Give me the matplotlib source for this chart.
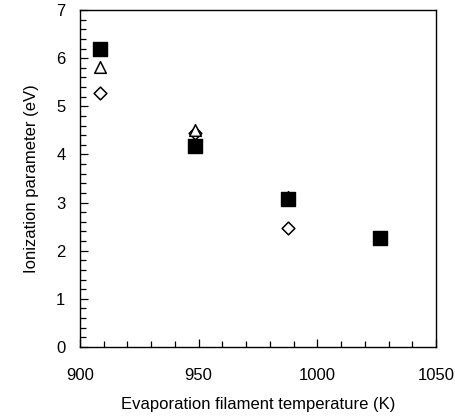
import matplotlib.pyplot as plt
from matplotlib.ticker import MultipleLocator

plt.rcParams['font.family'] = ['Liberation Sans', 'DejaVu Sans']

temp_sq = [908.5, 948.5, 987.8, 1026.4]
ion_sq = [6.19, 4.18, 3.07, 2.26]

temp_tri = [908.5, 948.5, 987.8]
ion_tri = [5.82, 4.51, 3.12]

temp_dia = [908.5, 948.5, 987.8]
ion_dia = [5.28, 4.45, 2.47]

fig = plt.figure(figsize=(4.56, 4.18), dpi=100)
ax = fig.add_axes([80 / 456, 1 - 347 / 418, 356 / 456, 337 / 418])

ax.scatter(temp_dia, ion_dia, marker='D', s=42, facecolors='white', edgecolors='black', linewidths=1.1, zorder=3)
ax.scatter(temp_tri, ion_tri, marker='^', s=70, facecolors='white', edgecolors='black', linewidths=1.1, zorder=4)
ax.scatter(temp_sq, ion_sq, marker='s', s=90, color='black', zorder=5)

ax.set_xlim(900, 1050)
ax.set_ylim(0, 7)
ax.xaxis.set_major_locator(MultipleLocator(50))
ax.xaxis.set_minor_locator(MultipleLocator(10))
ax.yaxis.set_major_locator(MultipleLocator(1))
ax.yaxis.set_minor_locator(MultipleLocator(0.2))

ax.tick_params(axis='both', which='both', direction='in', top=False, right=False, width=0.9)
ax.tick_params(axis='both', which='major', length=6, labelsize=12)
ax.tick_params(axis='both', which='minor', length=4)
ax.tick_params(axis='x', which='major', pad=15)
ax.tick_params(axis='y', which='major', pad=10.5)

for sp in ax.spines.values():
    sp.set_linewidth(1.0)

ax.set_xlabel('Evaporation filament temperature (K)', fontsize=12, labelpad=10)
ax.set_ylabel('Ionization parameter (eV)', fontsize=12, labelpad=12)

plt.savefig('out.png', dpi=100)
